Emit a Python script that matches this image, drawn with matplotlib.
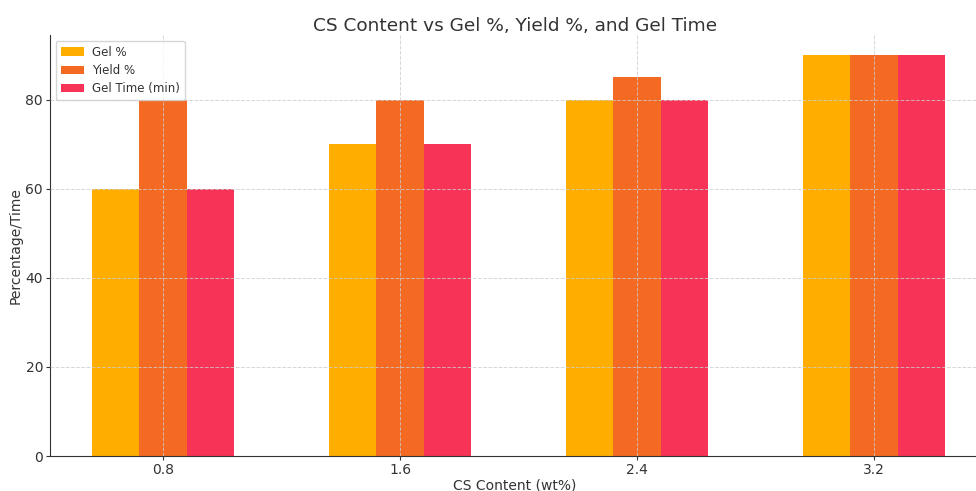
import matplotlib
matplotlib.use("Agg")
import matplotlib.pyplot as plt
import numpy as np

cs_content = ["0.8", "1.6", "2.4", "3.2"]
gel_pct = [60, 70, 80, 90]
yield_pct = [80, 80, 85, 90]
gel_time = [60, 70, 80, 90]

series_names = ["Gel %", "Yield %", "Gel Time (min)"]
colors = ["#FFAE00", "#F46A23", "#F73457"]

fig = plt.figure(figsize=(9.76, 4.91), dpi=100)
ax = fig.add_axes([50 / 976, 1 - 456 / 491, 930 / 976, (456 - 35) / 491])

x = np.arange(len(cs_content))
width = 0.2
for i, (vals, name, c) in enumerate(zip([gel_pct, yield_pct, gel_time], series_names, colors)):
    ax.bar(x + (i - 1) * width, vals, width, label=name, color=c)

ax.set_xticks(x)
ax.set_xticklabels(cs_content)
ax.set_xlim(-0.477, 3.447)
ax.set_ylim(0, 94.5)

ax.grid(True, linestyle="--", color="#cccccc", linewidth=0.7, alpha=0.8)
ax.set_axisbelow(False)

for s in ["top", "right"]:
    ax.spines[s].set_visible(False)
ax.spines["left"].set_color("#333333")
ax.spines["bottom"].set_color("#333333")
ax.tick_params(colors="#333333", labelsize=10, length=3, pad=2)

ax.set_title("CS Content vs Gel %, Yield %, and Gel Time", fontsize=13.3, color="#333333", pad=3)
ax.set_xlabel("CS Content (wt%)", fontsize=10, color="#333333", labelpad=1)
ax.set_ylabel("Percentage/Time", fontsize=10, color="#333333", labelpad=2)

leg = ax.legend(loc="upper left", fontsize=8.5, framealpha=0.8,
                borderaxespad=0.5, handlelength=2.0, handletextpad=0.7,
                labelspacing=0.45)
for t in leg.get_texts():
    t.set_color("#333333")

fig.savefig("out.png", dpi=100)
